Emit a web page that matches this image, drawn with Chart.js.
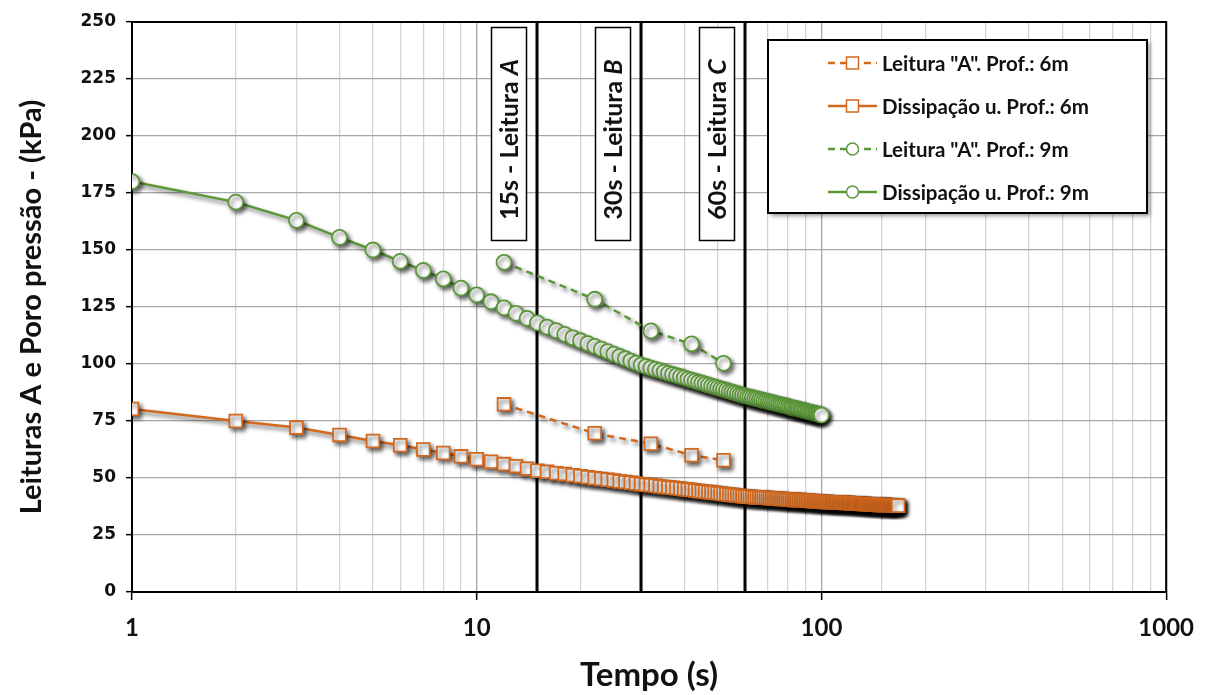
<!DOCTYPE html>
<html>
<head>
<meta charset="utf-8">
<script src="https://cdn.jsdelivr.net/npm/chart.js@4.4.1/dist/chart.umd.min.js"></script>
<style>
  html, body { margin: 0; padding: 0; background: #fff; }
</style>
</head>
<body>
<canvas id="chart" width="1208" height="695"></canvas>
<script>
// tempo (s) das leituras de dissipação
const tempo6 = [
  1, 2, 3, 4, 5, 6, 7, 8, 9, 10, 11, 12, 13, 14, 15, 16, 17, 18, 19, 20,
  21, 22, 23, 24, 25, 26, 27, 28, 29, 30, 31, 32, 33, 34, 35, 36, 37, 38, 39, 40,
  41, 42, 43, 44, 45, 46, 47, 48, 49, 50, 51, 52, 53, 54, 55, 56, 57, 58, 59, 60,
  61, 62, 63, 64, 65, 66, 67, 68, 69, 70, 71, 72, 73, 74, 75, 76, 77, 78, 79, 80,
  81, 82, 83, 84, 85, 86, 87, 88, 89, 90, 91, 92, 93, 94, 95, 96, 97, 98, 99, 100,
  101, 102, 103, 104, 105, 106, 107, 108, 109, 110, 111, 112, 113, 114, 115, 116, 117, 118, 119, 120,
  121, 122, 123, 124, 125, 126, 127, 128, 129, 130, 131, 132, 133, 134, 135, 136, 137, 138, 139, 140,
  141, 142, 143, 144, 145, 146, 147, 148, 149, 150, 151, 152, 153, 154, 155, 156, 157, 158, 159, 160,
  161, 162, 163, 164, 165, 166, 167
];
const dissipacao6 = [
  80.3, 75.0, 72.1, 68.9, 66.2, 64.4, 62.5, 61.0, 59.5, 58.2,
  57.1, 56.1, 55.2, 54.1, 53.2, 52.7, 52.1, 51.7, 51.2, 50.8,
  50.3, 49.9, 49.6, 49.2, 48.9, 48.5, 48.2, 47.9, 47.6, 47.3,
  47.0, 46.8, 46.6, 46.3, 46.1, 45.9, 45.7, 45.5, 45.3, 45.1,
  44.9, 44.7, 44.5, 44.3, 44.1, 44.0, 43.8, 43.6, 43.5, 43.3,
  43.2, 43.0, 42.9, 42.7, 42.6, 42.4, 42.3, 42.2, 42.0, 41.9,
  41.8, 41.8, 41.7, 41.6, 41.5, 41.5, 41.4, 41.3, 41.3, 41.2,
  41.1, 41.1, 41.0, 41.0, 40.9, 40.8, 40.8, 40.7, 40.7, 40.6,
  40.5, 40.5, 40.4, 40.4, 40.3, 40.3, 40.2, 40.2, 40.1, 40.1,
  40.0, 40.0, 39.9, 39.9, 39.8, 39.8, 39.7, 39.7, 39.6, 39.6,
  39.6, 39.5, 39.5, 39.5, 39.4, 39.4, 39.4, 39.3, 39.3, 39.3,
  39.2, 39.2, 39.2, 39.1, 39.1, 39.1, 39.0, 39.0, 39.0, 39.0,
  38.9, 38.9, 38.9, 38.8, 38.8, 38.8, 38.8, 38.7, 38.7, 38.7,
  38.6, 38.6, 38.6, 38.6, 38.5, 38.5, 38.5, 38.5, 38.4, 38.4,
  38.4, 38.4, 38.3, 38.3, 38.3, 38.3, 38.2, 38.2, 38.2, 38.2,
  38.1, 38.1, 38.1, 38.1, 38.0, 38.0, 38.0, 38.0, 38.0, 37.9,
  37.9, 37.9, 37.9, 37.8, 37.8, 37.8, 37.8
];
const tempo9 = tempo6.slice(0, 100);
const dissipacao9 = [
  180.0, 171.0, 163.0, 155.5, 150.0, 145.0, 141.0, 137.3, 133.3, 130.3,
  127.3, 124.6, 122.2, 120.0, 118.0, 116.2, 114.6, 113.0, 111.5, 110.2,
  108.9, 107.7, 106.5, 105.4, 104.3, 103.3, 102.3, 101.3, 100.4, 99.5,
  98.9, 98.2, 97.6, 97.1, 96.5, 95.9, 95.4, 94.9, 94.4, 93.9,
  93.4, 92.9, 92.5, 92.0, 91.6, 91.2, 90.7, 90.3, 89.9, 89.5,
  89.1, 88.8, 88.4, 88.0, 87.7, 87.3, 87.0, 86.6, 86.3, 86.0,
  85.7, 85.5, 85.2, 84.9, 84.7, 84.4, 84.2, 83.9, 83.7, 83.5,
  83.2, 83.0, 82.8, 82.5, 82.3, 82.1, 81.9, 81.7, 81.5, 81.3,
  81.0, 80.8, 80.6, 80.4, 80.3, 80.1, 79.9, 79.7, 79.5, 79.3,
  79.1, 78.9, 78.8, 78.6, 78.4, 78.2, 78.1, 77.9, 77.7, 77.6
];

// leituras "A"
const tempoLeitura = [12, 22, 32, 42, 52];
const leitura6 = [82.3, 69.6, 65.0, 60.0, 57.8];
const leitura9 = [144.6, 128.4, 114.5, 108.8, 100.3];

// marcos verticais
const marcosTempo = [15, 30, 60];
const marcosTexto = ["15s - Leitura ", "30s - Leitura ", "60s - Leitura "];
const marcosLetra = ["A", "B", "C"];

const yTicks = [0, 25, 50, 75, 100, 125, 150, 175, 200, 225, 250];

const LARANJA = "#d2691f";
const VERDE = "#5b9739";
const FONTE = "Lato, 'Open Sans', sans-serif";

function pares(xs, ys) {
    return ys.map((y, i) => ({ x: xs[i], y: y }));
}

function potencia10(v) {
    const l = Math.log10(v);
    return Math.abs(l - Math.round(l)) < 1e-9;
}

const sombra = {
    id: "sombra",
    beforeDatasetDraw(chart) {
        const ctx = chart.ctx;
        ctx.save();
        ctx.shadowColor = "rgba(0, 0, 0, 0.6)";
        ctx.shadowBlur = 4;
        ctx.shadowOffsetX = 2.5;
        ctx.shadowOffsetY = 3;
    },
    afterDatasetDraw(chart) {
        chart.ctx.restore();
    }
};

const marcos = {
    id: "marcos",
    beforeDatasetsDraw(chart) {
        const ctx = chart.ctx;
        const a = chart.chartArea;
        const x = chart.scales.x;
        const y = chart.scales.y;
        ctx.save();
        marcosTempo.forEach((t, i) => {
            const px = Math.round(x.getPixelForValue(t));
            ctx.strokeStyle = "#000";
            ctx.lineWidth = 3;
            ctx.beginPath();
            ctx.moveTo(px, y.getPixelForValue(0));
            ctx.lineTo(px, y.getPixelForValue(250));
            ctx.stroke();

            const bx = px - 46, bw = 35, by = a.top + 5, bh = 213;
            ctx.fillStyle = "#fff";
            ctx.fillRect(bx, by, bw, bh);
            ctx.lineWidth = 1.5;
            ctx.strokeStyle = "#000";
            ctx.strokeRect(bx + 0.5, by + 0.5, bw, bh);

            ctx.save();
            ctx.translate(bx + bw / 2 + 1, by + bh / 2 + 6);
            ctx.rotate(-Math.PI / 2);
            ctx.fillStyle = "#111";
            ctx.textBaseline = "middle";
            ctx.textAlign = "left";
            const f1 = "bold 25px " + FONTE;
            const f2 = "italic bold 25px " + FONTE;
            ctx.font = f1;
            const w1 = ctx.measureText(marcosTexto[i]).width;
            ctx.font = f2;
            const w2 = ctx.measureText(marcosLetra[i]).width;
            const x0 = -(w1 + w2) / 2;
            ctx.font = f1;
            ctx.fillText(marcosTexto[i], x0, 0);
            ctx.font = f2;
            ctx.fillText(marcosLetra[i], x0 + w1, 0);
            ctx.restore();
        });
        ctx.restore();
    }
};

const moldura = {
    id: "moldura",
    afterDatasetsDraw(chart) {
        const ctx = chart.ctx;
        const a = chart.chartArea;
        ctx.save();
        ctx.strokeStyle = "#000";
        ctx.lineWidth = 2;
        ctx.beginPath();
        ctx.moveTo(a.left, a.top);
        ctx.lineTo(a.right, a.top);
        ctx.lineTo(a.right, a.bottom);
        ctx.stroke();
        ctx.restore();
    }
};

const legenda = {
    id: "legenda",
    afterDraw(chart) {
        const ctx = chart.ctx;
        const lx = 768, ly = 40, lw = 379, lh = 173;
        ctx.save();
        ctx.shadowColor = "rgba(0, 0, 0, 0.4)";
        ctx.shadowBlur = 4;
        ctx.shadowOffsetX = 3;
        ctx.shadowOffsetY = 3;
        ctx.fillStyle = "#fff";
        ctx.fillRect(lx, ly, lw, lh);
        ctx.restore();

        ctx.save();
        ctx.strokeStyle = "#000";
        ctx.lineWidth = 2;
        ctx.strokeRect(lx, ly, lw, lh);

        chart.data.datasets.forEach((ds, i) => {
            const cy = 63 + i * 43;
            const x1 = 828, x2 = 877, cx = (x1 + x2) / 2;
            ctx.strokeStyle = ds.borderColor;
            ctx.lineWidth = 2.5;
            ctx.setLineDash(ds.borderDash || []);
            ctx.beginPath();
            ctx.moveTo(x1, cy);
            ctx.lineTo(x2, cy);
            ctx.stroke();
            ctx.setLineDash([]);
            ctx.fillStyle = "#fff";
            ctx.lineWidth = 1.5;
            ctx.beginPath();
            if (ds.pointStyle === "rect") {
                ctx.rect(cx - 6, cy - 6, 12, 12);
            } else {
                ctx.arc(cx, cy, 6, 0, Math.PI * 2);
            }
            ctx.fill();
            ctx.stroke();

            ctx.fillStyle = "#111";
            ctx.font = "bold 20.5px " + FONTE;
            ctx.textBaseline = "middle";
            ctx.textAlign = "left";
            ctx.fillText(ds.label, 882, cy + 1);
        });
        ctx.restore();
    }
};

const ctx = document.getElementById("chart").getContext("2d");

new Chart(ctx, {
    type: "scatter",
    data: {
        datasets: [
            {
                label: "Leitura \"A\". Prof.: 6m",
                data: pares(tempoLeitura, leitura6),
                showLine: true,
                borderColor: LARANJA,
                backgroundColor: "#fff",
                borderWidth: 2.5,
                borderDash: [7, 5],
                pointStyle: "rect",
                pointRadius: 9,
                pointBorderWidth: 1.8
            },
            {
                label: "Dissipação u. Prof.: 6m",
                data: pares(tempo6, dissipacao6),
                showLine: true,
                borderColor: LARANJA,
                backgroundColor: "#fff",
                borderWidth: 2.5,
                pointStyle: "rect",
                pointRadius: 9,
                pointBorderWidth: 1.8
            },
            {
                label: "Leitura \"A\". Prof.: 9m",
                data: pares(tempoLeitura, leitura9),
                showLine: true,
                borderColor: VERDE,
                backgroundColor: "#fff",
                borderWidth: 2.5,
                borderDash: [7, 5],
                pointStyle: "circle",
                pointRadius: 7.5,
                pointBorderWidth: 1.8
            },
            {
                label: "Dissipação u. Prof.: 9m",
                data: pares(tempo9, dissipacao9),
                showLine: true,
                borderColor: VERDE,
                backgroundColor: "#fff",
                borderWidth: 2.5,
                pointStyle: "circle",
                pointRadius: 7.5,
                pointBorderWidth: 1.8
            }
        ]
    },
    options: {
        responsive: false,
        animation: false,
        layout: {
            padding: { left: 0, right: 41, top: 22, bottom: 0 }
        },
        plugins: {
            legend: { display: false },
            tooltip: { enabled: false }
        },
        scales: {
            x: {
                type: "logarithmic",
                min: 1,
                max: 1000,
                afterFit: (scale) => { scale.height = 103; },
                border: { display: true, color: "#000", width: 2 },
                grid: {
                    color: (c) => potencia10(c.tick.value) ? "#a6a6a6" : "#d4d4d4",
                    lineWidth: 1.3,
                    tickLength: 8,
                    tickColor: (c) => potencia10(c.tick.value) ? "#000" : "rgba(0,0,0,0)",
                    tickWidth: 1.5
                },
                ticks: {
                    autoSkip: false,
                    maxRotation: 0,
                    padding: 14,
                    color: "#111",
                    font: { family: FONTE, size: 24, weight: "bold" },
                    callback: (v) => potencia10(v) ? String(v) : ""
                },
                title: {
                    display: true,
                    text: "Tempo (s)",
                    color: "#111",
                    font: { family: FONTE, size: 33, weight: "bold" },
                    padding: { top: 0, bottom: 0 }
                }
            },
            y: {
                min: 0,
                max: 250,
                afterFit: (scale) => { scale.width = 132; },
                afterBuildTicks: (scale) => {
                    scale.ticks = yTicks.map((v) => ({ value: v }));
                },
                border: { display: true, color: "#000", width: 2 },
                grid: {
                    color: "#a8a8a8",
                    lineWidth: 1.3,
                    tickLength: 6,
                    tickColor: "#000",
                    tickWidth: 1.5
                },
                ticks: {
                    padding: 10,
                    color: "#111",
                    font: { family: "'DejaVu Sans', sans-serif", size: 17, weight: "bold" }
                },
                title: {
                    display: true,
                    text: "Leituras A e Poro pressão - (kPa)",
                    color: "#111",
                    font: { family: FONTE, size: 29, weight: "bold" },
                    padding: { top: 14, bottom: 0 }
                }
            }
        }
    },
    plugins: [sombra, marcos, moldura, legenda]
});
</script>
</body>
</html>
